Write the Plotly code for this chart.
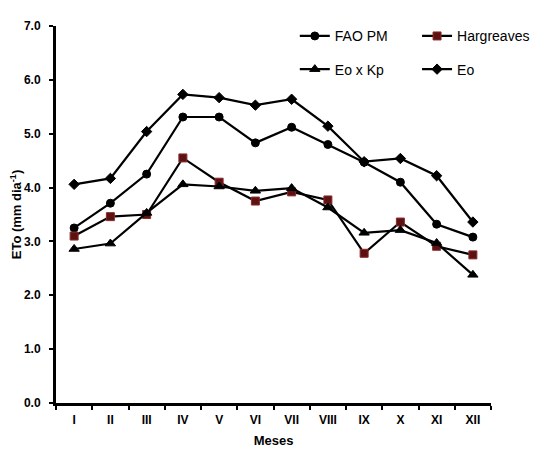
import plotly.graph_objects as go

# meses (algarismos romanos)
meses = ['I', 'II', 'III', 'IV', 'V', 'VI', 'VII', 'VIII', 'IX', 'X', 'XI', 'XII']

# ETo (mm dia-1)
fao_pm = [3.25, 3.71, 4.25, 5.31, 5.31, 4.83, 5.12, 4.80, 4.47, 4.10, 3.32, 3.08]
hargreaves = [3.10, 3.46, 3.50, 4.55, 4.10, 3.75, 3.92, 3.77, 2.78, 3.36, 2.91, 2.75]
eo_kp = [2.86, 2.96, 3.53, 4.06, 4.02, 3.94, 3.99, 3.63, 3.16, 3.21, 2.97, 2.38]
eo = [4.06, 4.17, 5.04, 5.73, 5.67, 5.53, 5.64, 5.14, 4.48, 4.54, 4.22, 3.36]

fig = go.Figure()

# uma série por método; legenda em duas colunas
series = [
    ('FAO PM', fao_pm, 'circle', 8, 'black', 'black', 'legend'),
    ('Hargreaves', hargreaves, 'square', 8, '#5c1212', '#8b2a2a', 'legend2'),
    ('Eo x Kp', eo_kp, 'triangle-up', 9, 'black', 'black', 'legend'),
    ('Eo', eo, 'diamond', 8, 'black', 'black', 'legend2'),
]
for nome, valores, simbolo, tamanho, cor, borda, leg in series:
    fig.add_trace(go.Scatter(
        x=meses, y=valores, name=nome, mode='lines+markers',
        legend=leg, legendgroup=nome,
        line=dict(color='black', width=2.2),
        marker=dict(symbol=simbolo, size=tamanho, color=cor,
                    line=dict(color=borda, width=1)),
    ))

fonte = 'Liberation Sans, Arial, sans-serif'
fonte_leg = dict(family=fonte, size=14, color='black')

fig.update_layout(
    width=542, height=453,
    margin=dict(l=48, r=59, t=12, b=58),
    plot_bgcolor='white', paper_bgcolor='white',
    font=dict(family=fonte, color='black', size=12),
    showlegend=True,
    legend=dict(x=0.549, y=1.015, xanchor='left', yanchor='top',
                tracegroupgap=12, bgcolor='rgba(0,0,0,0)', font=fonte_leg),
    legend2=dict(x=0.83, y=1.015, xanchor='left', yanchor='top',
                 tracegroupgap=12, bgcolor='rgba(0,0,0,0)', font=fonte_leg),
)

fig.update_xaxes(
    type='category', range=[-0.5, 11.5], automargin=False,
    showline=True, linecolor='black', linewidth=3,
    ticks='outside', tickson='boundaries', ticklen=4, tickwidth=2, tickcolor='black',
    ticklabelstandoff=4,
    showgrid=False, zeroline=False,
    tickfont=dict(family=fonte, size=12, color='black', weight='bold'),
    title=dict(text='<b>Meses</b>', font=dict(family=fonte, size=13), standoff=10),
)
fig.update_yaxes(
    range=[0, 7], dtick=1, tickformat='.1f', automargin=False,
    showline=True, linecolor='black', linewidth=3,
    ticks='outside', ticklen=4, tickwidth=2, tickcolor='black',
    ticklabelstandoff=6,
    showgrid=False, zeroline=False,
    tickfont=dict(family=fonte, size=12, color='black', weight='bold'),
    title=dict(text='<b>ETo (mm dia<sup>-1</sup>)</b>', font=dict(family=fonte, size=13), standoff=4),
)

fig.write_html('out.html')
